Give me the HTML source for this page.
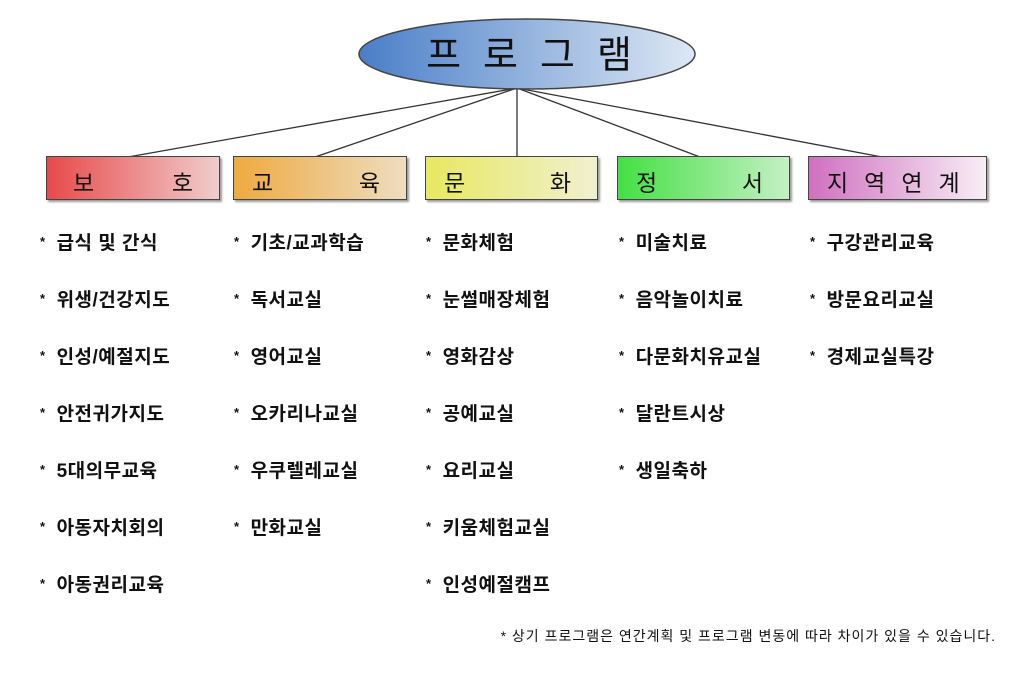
<!DOCTYPE html>
<html><head><meta charset="utf-8"><style>
body{margin:0;width:1026px;height:673px;background:#fff;position:relative;overflow:hidden;font-family:"Liberation Sans","Noto Sans CJK KR","NanumGothic",sans-serif;}
.box{position:absolute;top:156px;height:44px;border:1.5px solid #444;box-shadow:2px 2px 2px #999;box-sizing:border-box;font-size:23px;color:#111;}
.box span{position:absolute;top:7px}
.it{position:absolute;font-size:19px;font-weight:bold;color:#111;white-space:nowrap;letter-spacing:0.5px}
.it:before{content:"*";font-size:13px;margin-right:11px;vertical-align:3px}
.note{position:absolute;left:360px;top:626px;width:636px;text-align:right;font-size:14px;letter-spacing:1px;color:#111}
</style></head><body>
<svg width="1026" height="673" style="position:absolute;left:0;top:0">
<defs><linearGradient id="e" x1="0" x2="1"><stop offset="0" stop-color="#4a7ec8"/><stop offset="1" stop-color="#dde8f4"/></linearGradient></defs>
<g stroke="#333" stroke-width="1.3">
<line x1="517" y1="88" x2="128" y2="157"/>
<line x1="517" y1="88" x2="315" y2="157"/>
<line x1="517" y1="88" x2="517" y2="157"/>
<line x1="517" y1="88" x2="700" y2="157"/>
<line x1="517" y1="88" x2="882" y2="157"/>
</g>
<ellipse cx="527" cy="54" rx="168" ry="35" fill="url(#e)" stroke="#444" stroke-width="1.5"/>
<text x="540" y="68" text-anchor="middle" font-size="38" letter-spacing="22" fill="#111" font-family="Liberation Sans, Noto Sans CJK KR, sans-serif">프로그램</text>
</svg>
<div class="box" style="left:46px;width:174px;background:linear-gradient(90deg,#e84a4a,#f0cccc)"><span style="left:26px">보</span><span style="right:26px">호</span></div>
<div class="box" style="left:233px;width:174px;background:linear-gradient(90deg,#eeaa40,#eeddc0)"><span style="left:18px">교</span><span style="right:26px">육</span></div>
<div class="box" style="left:425px;width:173px;background:linear-gradient(90deg,#e8e860,#f0f0d0)"><span style="left:18px">문</span><span style="right:26px">화</span></div>
<div class="box" style="left:617px;width:173px;background:linear-gradient(90deg,#44e044,#c4f0c4)"><span style="left:18px">정</span><span style="right:26px">서</span></div>
<div class="box" style="left:808px;width:179px;background:linear-gradient(90deg,#d070c0,#f8eef6)"><span style="left:18px;letter-spacing:16px">지역연계</span></div>

<div class="it" style="left:40px;top:228px">급식 및 간식</div>
<div class="it" style="left:40px;top:285px">위생/건강지도</div>
<div class="it" style="left:40px;top:342px">인성/예절지도</div>
<div class="it" style="left:40px;top:399px">안전귀가지도</div>
<div class="it" style="left:40px;top:456px">5대의무교육</div>
<div class="it" style="left:40px;top:513px">아동자치회의</div>
<div class="it" style="left:40px;top:570px">아동권리교육</div>

<div class="it" style="left:234px;top:228px">기초/교과학습</div>
<div class="it" style="left:234px;top:285px">독서교실</div>
<div class="it" style="left:234px;top:342px">영어교실</div>
<div class="it" style="left:234px;top:399px">오카리나교실</div>
<div class="it" style="left:234px;top:456px">우쿠렐레교실</div>
<div class="it" style="left:234px;top:513px">만화교실</div>

<div class="it" style="left:426px;top:228px">문화체험</div>
<div class="it" style="left:426px;top:285px">눈썰매장체험</div>
<div class="it" style="left:426px;top:342px">영화감상</div>
<div class="it" style="left:426px;top:399px">공예교실</div>
<div class="it" style="left:426px;top:456px">요리교실</div>
<div class="it" style="left:426px;top:513px">키움체험교실</div>
<div class="it" style="left:426px;top:570px">인성예절캠프</div>

<div class="it" style="left:619px;top:228px">미술치료</div>
<div class="it" style="left:619px;top:285px">음악놀이치료</div>
<div class="it" style="left:619px;top:342px">다문화치유교실</div>
<div class="it" style="left:619px;top:399px">달란트시상</div>
<div class="it" style="left:619px;top:456px">생일축하</div>

<div class="it" style="left:810px;top:228px">구강관리교육</div>
<div class="it" style="left:810px;top:285px">방문요리교실</div>
<div class="it" style="left:810px;top:342px">경제교실특강</div>

<div class="note">* 상기 프로그램은 연간계획 및 프로그램 변동에 따라 차이가 있을 수 있습니다.</div>
</body></html>
